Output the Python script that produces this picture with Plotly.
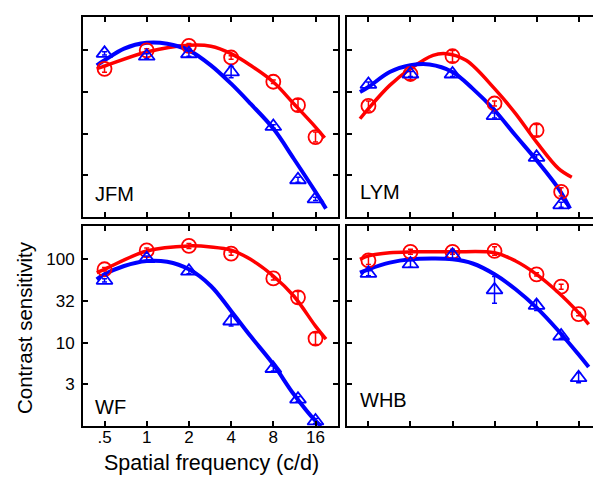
import plotly.graph_objects as go
from plotly.subplots import make_subplots

# ---------------- data ----------------
sf7 = [0.5, 1, 2, 4, 8, 12, 16]
sf6 = [0.5, 1, 2, 4, 8, 12]

x_tickvals = [0.5, 1, 2, 4, 8, 16]
x_ticktext = [".5", "1", "2", "4", "8", "16"]
y_tickvals = [3.162, 10, 31.62, 100]
y_ticktext = ["3", "10", "32", "100"]

# measured points (blue triangles / red circles)
jfm_blue = [92, 85, 91, 55, 12.2, 2.8, 1.65]
jfm_red = [60, 100, 113, 82, 42, 22, 9.1]
lym_blue = [39, 52, 52, 16.5, 5.2, 1.4]
lym_red = [21.5, 52, 85, 23, 11, 2.0]
wf_blue = [56, 102, 72, 18.2, 4.9, 2.1, 1.15]
wf_red = [76, 128, 145, 117, 59, 35, 11.2]
whb_blue = [68, 88, 112, 43, 28, 12.0, 3.8]
whb_red = [97, 123, 123, 126, 66, 47, 22]

# error bar half-widths (log10 units)
jfm_blue_err = [0.02, 0.03, 0.03, 0.07, 0.02, 0.03, 0.02]
jfm_red_err = [0.04, 0.02, 0.03, 0.02, 0.02, 0.07, 0.06]
lym_blue_err = [0.03, 0.03, 0.03, 0.03, 0.03, 0.03]
lym_red_err = [0.06, 0.07, 0.07, 0.03, 0.07, 0.05]
wf_blue_err = [0.02, 0.03, 0.03, 0.06, 0.03, 0.03, 0.03]
wf_red_err = [0.02, 0.03, 0.03, 0.02, 0.02, 0.07, 0.07]
whb_blue_err = [0.03, 0.04, 0.05, 0.16, 0.06, 0.03, 0.06]
whb_red_err = [0.05, 0.03, 0.03, 0.05, 0.02, 0.03, 0.02]

# fitted curves
jfm_blue_cx = [0.44, 0.5, 0.69, 1, 1.4, 2, 2.87, 4, 5.5, 8, 11.2, 16, 19]
jfm_blue_cy = [66.1, 75.9, 105, 123, 120, 100, 66.1, 39.8, 22.9, 11.5, 5.0, 2.0, 1.26]
jfm_red_cx = [0.44, 0.5, 1, 2, 2.87, 4, 5.5, 8, 11.2, 16, 18.6]
jfm_red_cy = [60.3, 64.6, 95.5, 115, 112, 91.2, 66.1, 41.7, 22.9, 12.0, 8.9]

lym_blue_cx = [0.435, 0.5, 0.71, 1, 1.37, 2, 2.79, 4, 5.66, 8, 11.5, 13.9]
lym_blue_cy = [31.6, 36.3, 55, 66.1, 67.6, 55, 34.7, 19.1, 9.5, 4.8, 2.19, 1.26]
lym_red_cx = [0.435, 0.5, 0.71, 1, 1.45, 1.8, 2.5, 4, 5.66, 8, 11.5, 14.3]
lym_red_cy = [15.1, 20, 38, 60.3, 87.1, 91.2, 75.9, 34.7, 17.4, 7.9, 3.8, 3.0]

wf_blue_cx = [0.44, 0.5, 0.69, 1, 1.4, 2, 2.87, 4, 5.5, 8, 11.2, 16, 17.6]
wf_blue_cy = [57.5, 66.1, 83.2, 95.5, 93.3, 75.9, 47.9, 24, 12.0, 5.5, 2.4, 1.15, 1.0]
wf_red_cx = [0.44, 0.5, 1, 2, 2.87, 4, 5.5, 8, 11.2, 16, 19]
wf_red_cy = [69.2, 75.9, 126, 145, 141, 129, 100, 63.1, 36.3, 15.8, 11.0]

whb_blue_cx = [0.435, 0.5, 0.71, 1, 1.45, 2, 2.79, 4, 5.66, 8, 11.5, 16, 18.9]
whb_blue_cy = [69.2, 75.9, 91.2, 100, 102, 100, 89.1, 66.1, 43.7, 26.3, 13.8, 7.2, 5.1]
whb_red_cx = [0.435, 0.5, 0.71, 1, 2, 4, 5.66, 8, 11.5, 16, 18.9]
whb_red_cy = [100, 110, 120, 123, 123, 120, 95.5, 66.1, 39.8, 22.9, 16.6]

panels = [
    ("JFM", 1, 1, sf7, jfm_blue, jfm_blue_err, jfm_red, jfm_red_err,
     jfm_blue_cx, jfm_blue_cy, jfm_red_cx, jfm_red_cy),
    ("LYM", 1, 2, sf6, lym_blue, lym_blue_err, lym_red, lym_red_err,
     lym_blue_cx, lym_blue_cy, lym_red_cx, lym_red_cy),
    ("WF", 2, 1, sf7, wf_blue, wf_blue_err, wf_red, wf_red_err,
     wf_blue_cx, wf_blue_cy, wf_red_cx, wf_red_cy),
    ("WHB", 2, 2, sf7, whb_blue, whb_blue_err, whb_red, whb_red_err,
     whb_blue_cx, whb_blue_cy, whb_red_cx, whb_red_cy),
]

BLUE = "#0000ff"
RED = "#ff0000"
W, H = 601, 484
FONT = "Liberation Sans, Arial, Helvetica, sans-serif"

fig = make_subplots(rows=2, cols=2)


def err_arrays(vals, errs):
    plus = [v * (10 ** e - 1) for v, e in zip(vals, errs)]
    minus = [v * (1 - 10 ** (-e)) for v, e in zip(vals, errs)]
    return plus, minus


for (name, r, c, sf, bv, be, rv, re_, bcx, bcy, rcx, rcy) in panels:
    # curves
    fig.add_trace(go.Scatter(x=rcx, y=rcy, mode="lines", line=dict(color=RED, width=3.5, shape="spline"),
                             showlegend=False, hoverinfo="skip"), row=r, col=c)
    fig.add_trace(go.Scatter(x=bcx, y=bcy, mode="lines", line=dict(color=BLUE, width=4, shape="spline"),
                             showlegend=False, hoverinfo="skip"), row=r, col=c)
    # markers
    p, m = err_arrays(rv, re_)
    fig.add_trace(go.Scatter(x=sf, y=rv, mode="markers",
                             marker=dict(symbol="circle-open", size=14, color=RED, line=dict(width=1.8, color=RED)),
                             error_y=dict(type="data", array=p, arrayminus=m, color=RED, thickness=1.5, width=2.5),
                             showlegend=False), row=r, col=c)
    p, m = err_arrays(bv, be)
    fig.add_trace(go.Scatter(x=sf, y=bv, mode="markers",
                             marker=dict(symbol="triangle-up-open", size=14, color=BLUE, line=dict(width=1.8, color=BLUE)),
                             error_y=dict(type="data", array=p, arrayminus=m, color=BLUE, thickness=1.5, width=2.5),
                             showlegend=False), row=r, col=c)

# domains in pixels
xdom = {1: (75, 330), 2: (339, 593)}
ydom = {1: (9, 209), 2: (218, 418)}

for (name, r, c, *_rest) in panels:
    idx = (r - 1) * 2 + c
    xa = "xaxis" if idx == 1 else f"xaxis{idx}"
    ya = "yaxis" if idx == 1 else f"yaxis{idx}"
    show_lbl = (r == 2 and c == 1)
    fig.layout[xa].update(
        type="log", range=[-0.4546, 1.3646],
        domain=[xdom[c][0] / W, xdom[c][1] / W],
        tickvals=x_tickvals, ticktext=x_ticktext, showticklabels=show_lbl,
        ticks="inside", ticklen=5, tickwidth=1.6, tickcolor="black",
        showline=True, linewidth=2, linecolor="black", mirror="allticks",
        showgrid=False, zeroline=False,
        tickfont=dict(family=FONT, size=17, color="black"),
        ticklabelstandoff=-5,
    )
    fig.layout[ya].update(
        type="log", range=[0, 2.4],
        domain=[1 - ydom[r][1] / H, 1 - ydom[r][0] / H],
        tickvals=y_tickvals, ticktext=y_ticktext, showticklabels=show_lbl,
        ticks="inside", ticklen=5, tickwidth=1.6, tickcolor="black",
        showline=True, linewidth=2, linecolor="black", mirror="allticks",
        showgrid=False, zeroline=False,
        tickfont=dict(family=FONT, size=17, color="black"),
        ticklabelstandoff=3,
    )

annots = [
    dict(text="JFM", x=85 / W, y=1 - 186 / H, xanchor="left", yanchor="middle", size=20),
    dict(text="LYM", x=350 / W, y=1 - 184 / H, xanchor="left", yanchor="middle", size=20),
    dict(text="WF", x=85 / W, y=1 - 399 / H, xanchor="left", yanchor="middle", size=20),
    dict(text="WHB", x=350 / W, y=1 - 392 / H, xanchor="left", yanchor="middle", size=20),
    dict(text="Spatial frequency (c/d)", x=204 / W, y=1 - 455 / H, xanchor="center", yanchor="middle", size=21.5),
]
for a in annots:
    fig.add_annotation(text=a["text"], x=a["x"], y=a["y"], xref="paper", yref="paper",
                       xanchor=a["xanchor"], yanchor=a["yanchor"], showarrow=False,
                       font=dict(family=FONT, size=a["size"], color="black"))
fig.add_annotation(text="Contrast sensitivity", x=16 / W, y=1 - 320 / H, xref="paper", yref="paper",
                   xanchor="center", yanchor="middle", textangle=-90, showarrow=False,
                   font=dict(family=FONT, size=20.5, color="black"))

fig.update_layout(width=W, height=H, margin=dict(l=0, r=0, t=0, b=0),
                  paper_bgcolor="white", plot_bgcolor="white", showlegend=False)

fig.write_html("out.html")
